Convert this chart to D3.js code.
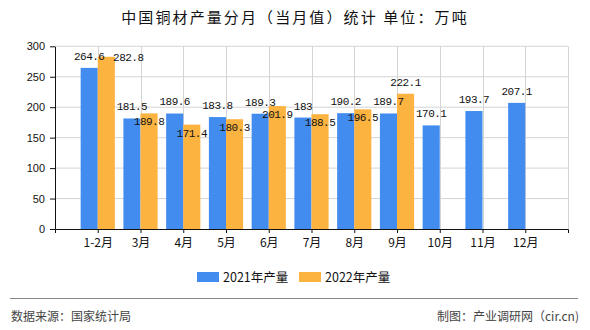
<!DOCTYPE html>
<html>
<head>
<meta charset="utf-8">
<script src="https://cdn.jsdelivr.net/npm/d3@7"></script>
<style>
  html, body { margin: 0; padding: 0; background: #fff; }
  svg { display: block; }
</style>
</head>
<body>
<svg id="chart" width="590" height="330"></svg>
<script>
// ---------- data ----------
const categories = ["1-2月", "3月", "4月", "5月", "6月", "7月", "8月", "9月", "10月", "11月", "12月"];
const values2021 = [264.6, 181.5, 189.6, 183.8, 189.3, 183, 190.2, 189.7, 170.1, 193.7, 207.1];
const values2022 = [282.8, 189.8, 171.4, 180.3, 201.9, 188.5, 196.5, 222.1, null, null, null];
const seriesNames = ["2021年产量", "2022年产量"];
const yTicks = [0, 50, 100, 150, 200, 250, 300];
const titleText = "中国铜材产量分月（当月值）统计 单位：万吨";
const sourceText = "数据来源：国家统计局";
const creditText = "制图：产业调研网（cir.cn)";

// ---------- style ----------
const colors = ["#428cef", "#fcb340"];
const cjk = "'Noto Sans CJK SC', 'Noto Sans', sans-serif";
const numFont = "'Liberation Mono', 'DejaVu Sans Mono', monospace";

const svg = d3.select("#chart");
const mLeft = 55, mRight = 568, mTop = 46.3, mBottom = 229;

const x = d3.scalePoint().domain(categories).range([mLeft, mRight]).padding(1);
const y = d3.scaleLinear().domain([0, 300]).range([mBottom, mTop]);
const groupW = x.step() * 0.8;
const sub = d3.scaleBand().domain(seriesNames).range([-groupW / 2, groupW / 2]).paddingInner(0);

// title
svg.append("text")
  .attr("x", 295).attr("y", 23)
  .attr("text-anchor", "middle")
  .style("font-family", cjk).style("font-size", "15px")
  .style("letter-spacing", "2.1px")
  .attr("fill", "#111")
  .text(titleText);

// grid
const grid = svg.append("g");
grid.selectAll("line.h").data(yTicks.filter(d => d > 0)).join("line")
  .attr("x1", mLeft).attr("x2", mRight)
  .attr("y1", d => y(d)).attr("y2", d => y(d))
  .attr("stroke", "#d4d4d4").attr("stroke-width", 1);
const bounds = [x(categories[0]) - x.step()].concat(categories.map(c => x(c))).concat([x(categories[categories.length - 1]) + x.step()]);
grid.selectAll("line.v").data(bounds.slice(1)).join("line")
  .attr("x1", d => Math.round(d) + 0.5).attr("x2", d => Math.round(d) + 0.5)
  .attr("y1", mTop).attr("y2", mBottom)
  .attr("stroke", "#d4d4d4").attr("stroke-width", 1);

// bars
const series = [values2021, values2022];
series.forEach((vals, si) => {
  svg.append("g").selectAll("rect")
    .data(categories.map((c, i) => ({ c, v: vals[i] })).filter(d => d.v != null))
    .join("rect")
    .attr("x", d => x(d.c) + sub(seriesNames[si]))
    .attr("width", sub.bandwidth())
    .attr("y", d => y(d.v))
    .attr("height", d => y(0) - y(d.v))
    .attr("fill", colors[si]);
});

// axes
const yAxis = svg.append("g").attr("transform", `translate(${mLeft},0)`)
  .call(d3.axisLeft(y).tickValues(yTicks).tickSize(5).tickSizeOuter(0).tickPadding(5));
const xAxis = svg.append("g").attr("transform", `translate(0,${mBottom})`)
  .call(d3.axisBottom(x).tickSize(4).tickSizeOuter(4).tickPadding(5));
[yAxis, xAxis].forEach(a => {
  a.selectAll("path, line").attr("stroke", "#111");
  a.selectAll("text").attr("fill", "#111");
});
yAxis.selectAll("text").style("font-family", "'Liberation Sans', Arial, sans-serif").style("font-size", "11px");
xAxis.selectAll("text").style("font-family", cjk).style("font-size", "12px");

// value labels (simple overlap avoidance, like the source renderer)
const charW = 6.1, lblH = 12;
function box(cx, cy, txt) { const w = txt.length * charW; return { x0: cx - w / 2, x1: cx + w / 2, y0: cy - lblH / 2, y1: cy + lblH / 2 }; }
function hit(a, b) { return a.x0 < b.x1 && b.x0 < a.x1 && a.y0 < b.y1 && b.y0 < a.y1; }
const labels = [];
categories.forEach((c, i) => {
  const bw = sub.bandwidth();
  const v1 = values2021[i], v2 = values2022[i];
  let b1 = null;
  if (v1 != null) {
    const t = String(v1), cx = x(c) + sub(seriesNames[0]) + bw / 2, cy = y(v1) - 12;
    b1 = box(cx, cy, t);
    labels.push({ t, cx, cy });
  }
  if (v2 != null) {
    const t = String(v2), bx = x(c) + sub(seriesNames[1]) + bw / 2, topY = y(v2);
    const candidates = [[bx, topY - 12], [bx, topY + 8], [bx + 22, topY]];
    let pick = candidates[0];
    for (const cand of candidates) {
      pick = cand;
      if (!b1 || !hit(box(cand[0], cand[1], t), b1)) break;
    }
    labels.push({ t, cx: pick[0], cy: pick[1] });
  }
});
svg.append("g").selectAll("text").data(labels).join("text")
  .attr("x", d => d.cx).attr("y", d => d.cy).attr("dy", "0.36em")
  .attr("text-anchor", "middle")
  .style("font-family", numFont).style("font-size", "11px")
  .style("letter-spacing", "-0.5px")
  .attr("fill", "#111")
  .text(d => d.t);

// legend
const legend = svg.append("g");
const legX = [197, 299];
seriesNames.forEach((n, i) => {
  legend.append("rect").attr("x", legX[i]).attr("y", 272).attr("width", 22).attr("height", 10).attr("fill", colors[i]);
  legend.append("text").attr("x", legX[i] + 26).attr("y", 277).attr("dy", "0.36em")
    .style("font-family", cjk).style("font-size", "12.5px").attr("fill", "#111").text(n);
});

// footer
svg.append("line").attr("x1", 10).attr("x2", 578).attr("y1", 298.5).attr("y2", 298.5)
  .attr("stroke", "#888").attr("stroke-width", 1);
svg.append("text").attr("x", 11).attr("y", 317).attr("dy", "0.36em")
  .style("font-family", cjk).style("font-size", "12px").attr("fill", "#444").text(sourceText);
svg.append("text").attr("x", 579).attr("y", 317).attr("dy", "0.36em").attr("text-anchor", "end")
  .style("font-family", cjk).style("font-size", "12px").attr("fill", "#444").text(creditText);
</script>
</body>
</html>
